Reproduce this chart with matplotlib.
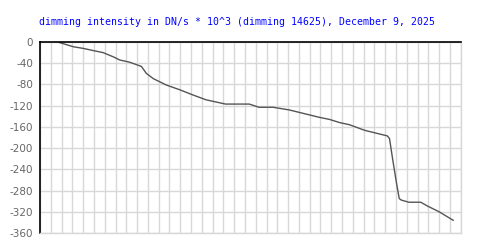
import matplotlib
matplotlib.use("Agg")
import matplotlib.pyplot as plt
import numpy as np

# dimming curve (x in grid units, y in DN/s * 10^3)
hours = [1.8, 3.1, 4.0, 4.9, 5.85, 6.8, 7.4, 8.3, 9.4, 9.85, 10.5, 11.7, 12.95,
         14.2, 15.4, 17.2, 19.4, 20.3, 21.6, 23.1, 24.1, 25.9, 26.85, 27.8,
         28.7, 29.9, 30.2, 32.2, 32.4, 32.7, 33.0, 33.3, 33.5, 34.2, 35.3,
         35.9, 37.0, 38.3]
intensity = [-1, -9, -12, -16, -20, -28, -34, -38, -46, -59, -69, -81, -90,
             -100, -109, -117, -117, -123, -123, -128, -133, -142, -146, -152,
             -156, -165, -167, -177, -182, -222, -260, -295, -298, -302, -302,
             -309, -320, -336]
yticks = [0, -40, -80, -120, -160, -200, -240, -280, -320, -360]
title = "dimming intensity in DN/s * 10^3 (dimming 14625), December 9, 2025"

fig = plt.figure(figsize=(5, 2.5), dpi=100)
ax = fig.add_axes([40 / 500, 17 / 250, 420.7 / 500, 191 / 250])

ax.plot(hours, intensity, color="#555555", linewidth=1)

ax.set_xlim(0, 39)
ax.set_ylim(-360, 0)
ax.set_xticks(np.arange(0, 40))
ax.set_xticklabels([])
ax.set_yticks(yticks)
ax.set_yticklabels([str(v) for v in yticks])
ax.grid(True, color="#d8d8d8", linewidth=1)
ax.set_axisbelow(True)
ax.tick_params(length=0, labelsize=7.5, labelcolor="#666666", pad=5)

for side in ["left", "top"]:
    ax.spines[side].set_color("black")
    ax.spines[side].set_linewidth(1.2)
for side in ["right", "bottom"]:
    ax.spines[side].set_color("#d8d8d8")
    ax.spines[side].set_linewidth(1)

fig.text(39 / 500, 1 - 22 / 250, title, color="blue", fontsize=7.15,
         family="DejaVu Sans Mono", ha="left", va="center")

fig.savefig("out.png", dpi=100)
